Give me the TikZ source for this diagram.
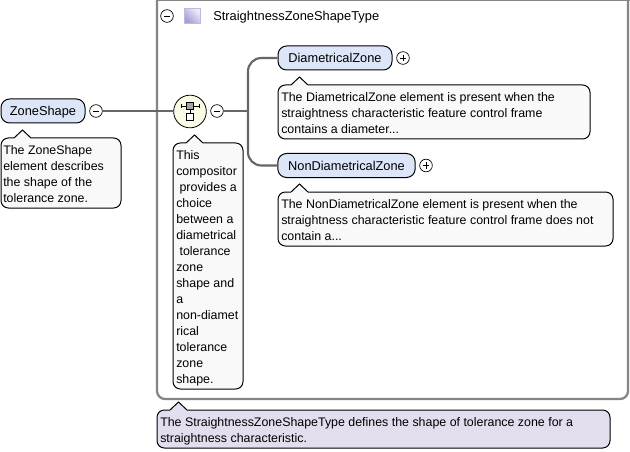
\documentclass[tikz,border=0pt]{standalone}
\usepackage{fontspec}
\setmainfont{Liberation Sans}
\usetikzlibrary{calc}
\definecolor{pillblue}{HTML}{DCE6F8}
\definecolor{notefill}{HTML}{F9F9F9}
\definecolor{typefill}{HTML}{E3DEEE}
\definecolor{wire}{HTML}{666666}
\definecolor{framegrey}{HTML}{858585}
\definecolor{compfill}{HTML}{FBFBE6}
\definecolor{iconviolet}{HTML}{A898D4}
\tikzset{
  x=0.75pt,y=-0.75pt,
  pill/.style={draw=black,fill=pillblue,rounded corners=6.5pt,line width=0.75pt,inner sep=0pt,font=\fontsize{9.6pt}{11pt}\selectfont,anchor=center,text height=9pt,text depth=1.5pt},
  notetext/.style={inner sep=0pt,anchor=north west,align=left,font=\fontsize{9.3pt}{12pt}\selectfont},
  noteshape/.style={draw=black,line width=0.75pt,rounded corners=5.5pt},
  toggle/.style={circle,draw=black,fill=white,minimum size=9.5pt,inner sep=0pt,line width=0.5pt},
  wireline/.style={draw=wire,line width=1.6pt},
}
% #1 fill, #2 left, #3 top, #4 bottom, #5 right
\newcommand{\notebox}[5]{%
  \path[noteshape,fill=#1] (#2,#4) -- (#2,#3)
    [sharp corners] -- (#2+13,#3) -- (#2+21.5,#3-8) -- (#2+30,#3)
    [rounded corners=5.5pt] -- (#5,#3) -- (#5,#4) -- cycle;
}
\begin{document}
\begin{tikzpicture}
\useasboundingbox (0,0) rectangle (630,452);
\fill[white] (0,0) rectangle (630,452);
% frame
\draw[framegrey,line width=1.7pt,rounded corners=6pt] (157,-2) -- (157,399) -- (628,399) -- (628,-2);
\draw[framegrey,line width=1.5pt] (157,0) -- (630,0);
\shade[left color=white,middle color=gray!75,right color=white] (160,32.5) rectangle (512,34.5);
\coordinate (branch) at (248,111);
% title
\node[toggle] (titletoggle) at (167,16) {};
\draw[line width=0.6pt] (163.8,16) -- (170.2,16);
\node[draw=iconviolet!70,line width=0.5pt,minimum width=12pt,minimum height=11.5pt,inner sep=0pt,shading=axis,left color=white!80!iconviolet,right color=iconviolet,shading angle=-45] (typeicon) at (192,16) {};
\node[anchor=west,inner sep=0pt,font=\fontsize{9.65pt}{11pt}\selectfont] (typename) at (213,17.5) {StraightnessZoneShapeType};
% element pills
\node[pill,minimum width=63pt,minimum height=18pt] (zone) at (43,111) {ZoneShape};
\node[toggle] (zonetoggle) at (96,111) {};
\draw[line width=0.6pt] (92.8,111) -- (99.2,111);
\node[circle,draw=black,fill=compfill,minimum size=24.5pt,inner sep=0pt,line width=0.6pt] (comp) at (190,111.5) {};
\node[toggle] (comptoggle) at (217,111) {};
\draw[line width=0.6pt] (213.8,111) -- (220.2,111);
\node[pill,minimum width=85.5pt,minimum height=18pt] (diam) at (335,58) {DiametricalZone};
\node[toggle] (diamtoggle) at (403,58) {};
\draw[line width=0.6pt] (399.8,58) -- (406.2,58) (403,54.8) -- (403,61.2);
\node[pill,minimum width=103pt,minimum height=18pt] (nondiam) at (346.5,165.5) {NonDiametricalZone};
\node[toggle] (nondiamtoggle) at (426,165.5) {};
\draw[line width=0.6pt] (422.8,165.5) -- (429.2,165.5) (426,162.3) -- (426,168.7);
% connectors
\draw[wireline] (zonetoggle) -- (zonetoggle -| comp.west);
\draw[wireline] (comptoggle) -- (branch);
\draw[wireline,rounded corners=10pt] (diam.west) -- (248,58) -- (248,165.5) -- (nondiam.west);
% compositor icon
\draw[line width=0.6pt] (181,106) -- (199,106) (181,104) -- (181,108) (199,104) -- (199,108) (190,106) -- (190,114);
\node[draw=black,fill=gray!70,minimum size=5pt,inner sep=0pt,line width=0.4pt] (iconA) at (190,106) {};
\node[draw=black,fill=white,minimum size=5pt,inner sep=0pt,line width=0.5pt] (iconB) at (190,117) {};
% notes
\notebox{notefill}{1}{138}{208}{121}
\node[notetext] (zonenote) at (3,145) {The ZoneShape\\element describes\\the shape of the\\tolerance zone.};
\notebox{notefill}{173}{143}{389}{243}
\node[notetext] (compnote) at (176,150) {This\\compositor\\\hspace{2.5pt}provides a\\choice\\between a\\diametrical\\\hspace{2.5pt}tolerance\\zone\\shape and\\a\\non-diamet\\rical\\tolerance\\zone\\shape.};
\notebox{notefill}{278}{85}{139}{590}
\node[notetext] (diamnote) at (281,92) {The DiametricalZone element is present when the\\straightness characteristic feature control frame\\contains a diameter...};
\notebox{notefill}{278}{192}{246}{613}
\node[notetext] (nondiamnote) at (281,199) {The NonDiametricalZone element is present when the\\straightness characteristic feature control frame does not\\contain a...};
\notebox{typefill}{157}{410}{448}{610}
\node[notetext] (typenote) at (160,417) {The StraightnessZoneShapeType defines the shape of tolerance zone for a\\straightness characteristic.};
\end{tikzpicture}
\end{document}
